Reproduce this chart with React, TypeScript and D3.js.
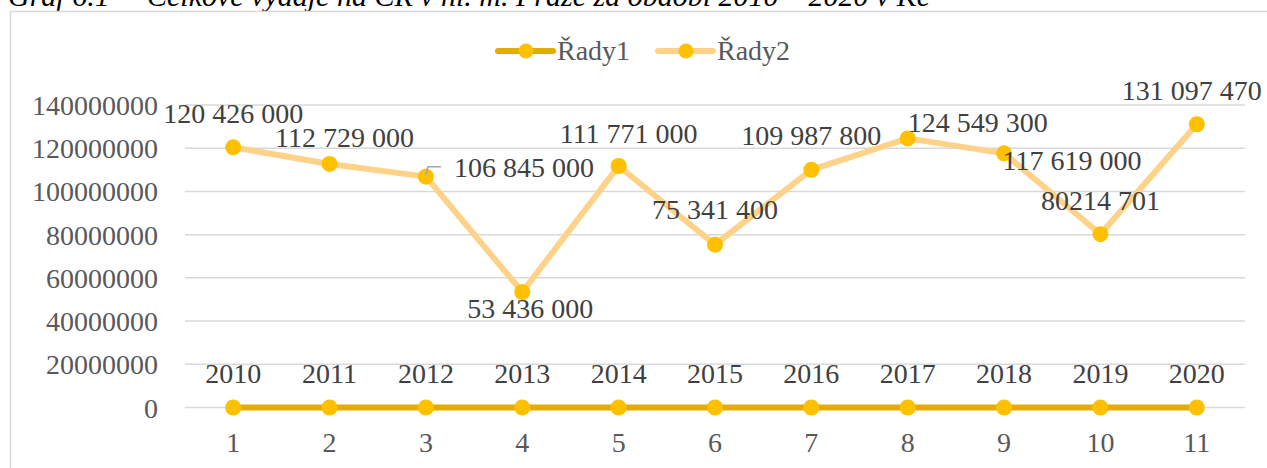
import React from "react";
import * as d3 from "d3";

const categories = ["1", "2", "3", "4", "5", "6", "7", "8", "9", "10", "11"];
const series1Values = [2010, 2011, 2012, 2013, 2014, 2015, 2016, 2017, 2018, 2019, 2020];
const series2Values = [120426000, 112729000, 106845000, 53436000, 111771000, 75341400, 109987800, 124549300, 117619000, 80214701, 131097470];
const series2Labels = ["120 426 000", "112 729 000", "106 845 000", "53 436 000", "111 771 000", "75 341 400", "109 987 800", "124 549 300", "117 619 000", "80214 701", "131 097 470"];
const yTicks = [0, 20000000, 40000000, 60000000, 80000000, 100000000, 120000000, 140000000];
const seriesNames = ["Řady1", "Řady2"];
const titleParts = ["Graf 6.1", "–", "Celkové výdaje na CR v hl. m. Praze za období 2010 – 2020 v Kč"];

// label placement offsets (dx from point center, dy baseline from point)
const label2Offsets: [number, number][] = [
  [0, -24], [15, -17], [98, 0], [8, 26], [10, -23], [0, -26], [0, -25], [70, -6], [68, 17], [0, -24], [-5, -24],
];

const W = 1267;
const H = 468;
const FONT = "'Liberation Serif', 'Times New Roman', serif";
const C1 = "#E3AC00";
const C2 = "#FFD28A";
const MARK = "#FFC000";

export default function App() {
  const x = d3.scaleBand<string>().domain(categories).range([185, 1245]);
  const y = d3.scaleLinear().domain([0, 140000000]).range([407.5, 105]);
  const cx = (i: number) => (x(categories[i]) as number) + x.bandwidth() / 2;
  const line = d3
    .line<number>()
    .x((_, i) => cx(i))
    .y((d) => y(d));

  return (
    <svg width={W} height={H} style={{ position: "absolute", left: 0, top: 0, background: "#fff" }} fontFamily={FONT}>
      <text y={6} fontSize={30} fontStyle="italic" fill="#000">
        <tspan x={8}>{titleParts[0]}</tspan>
        <tspan x={118}>{titleParts[1]}</tspan>
        <tspan x={147}>{titleParts[2]}</tspan>
      </text>
      <rect x={10.5} y={11.5} width={1400} height={600} fill="none" stroke="#d9d9d9" strokeWidth={1.5} />
      {yTicks.map((t) => (
        <g key={t}>
          <line x1={185} x2={1245} y1={y(t)} y2={y(t)} stroke="#d9d9d9" strokeWidth={1.5} />
          <text x={158} y={y(t) + 10} fontSize={28} fill="#595959" textAnchor="end">{t}</text>
        </g>
      ))}
      {categories.map((c, i) => (
        <text key={c} x={cx(i)} y={452} fontSize={28} fill="#595959" textAnchor="middle">{c}</text>
      ))}
      <path d={line(series2Values) || ""} fill="none" stroke={C2} strokeWidth={6} strokeLinejoin="round" strokeLinecap="round" />
      <path d={line(series1Values) || ""} fill="none" stroke={C1} strokeWidth={6} strokeLinejoin="round" strokeLinecap="round" />
      {series2Values.map((v, i) => (
        <circle key={"p2" + i} cx={cx(i)} cy={y(v)} r={8} fill={MARK} />
      ))}
      {series1Values.map((v, i) => (
        <circle key={"p1" + i} cx={cx(i)} cy={y(v)} r={8} fill={MARK} />
      ))}
      {series1Values.map((v, i) => (
        <text key={"l1" + i} x={cx(i)} y={y(v) - 24.5} fontSize={28} fill="#404040" textAnchor="middle">{v}</text>
      ))}
      {series2Values.map((v, i) => (
        <text key={"l2" + i} x={cx(i) + label2Offsets[i][0]} y={y(v) + label2Offsets[i][1]} fontSize={28} fill="#404040" textAnchor="middle">{series2Labels[i]}</text>
      ))}
      <path d={`M${cx(2)},${y(series2Values[2]) - 2} L${cx(2) + 2},${y(series2Values[2]) - 10} L${cx(2) + 15},${y(series2Values[2]) - 10}`} fill="none" stroke="#a6a6a6" strokeWidth={1.5} />
      {/* legend */}
      {seriesNames.map((n, i) => {
        const lx = 498 + i * 160;
        return (
          <g key={n}>
            <line x1={lx} x2={lx + 55} y1={51} y2={51} stroke={i === 0 ? C1 : C2} strokeWidth={6} strokeLinecap="round" />
            <circle cx={lx + 28} cy={51} r={7.5} fill={MARK} />
            <text x={lx + 59} y={60} fontSize={28} fill="#595959">{n}</text>
          </g>
        );
      })}
    </svg>
  );
}
